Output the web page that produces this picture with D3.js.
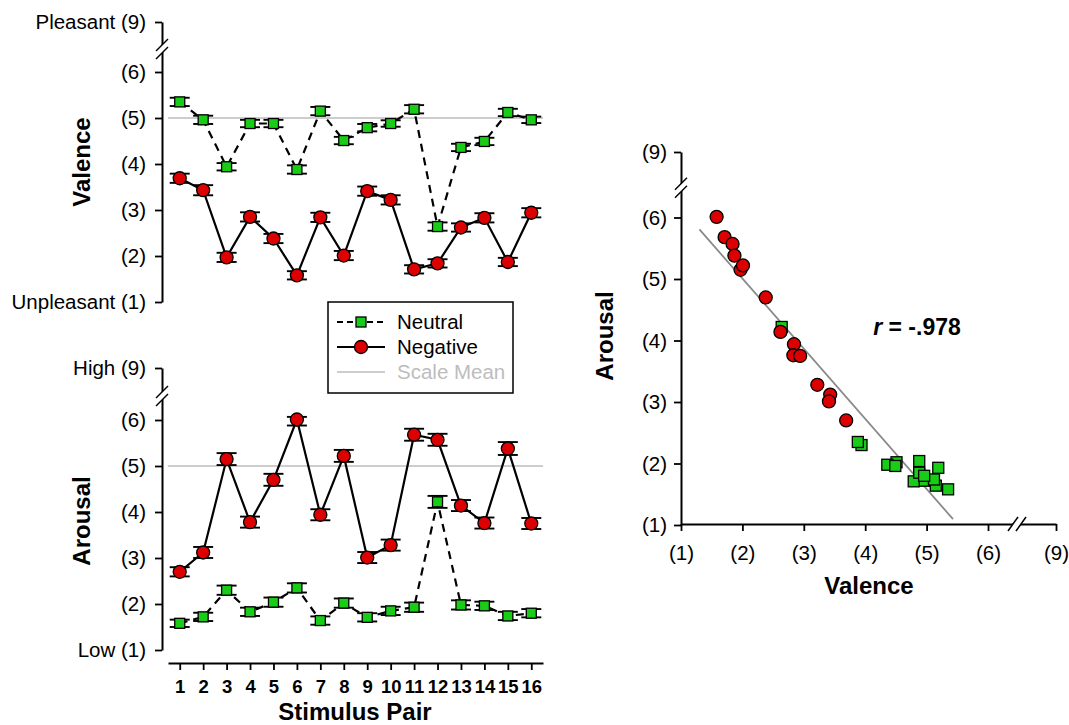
<!DOCTYPE html>
<html>
<head>
<meta charset="utf-8">
<script src="https://cdn.jsdelivr.net/npm/d3@7"></script>
<style>
  body { margin: 0; background: #fff; }
  svg { font-family: "Liberation Sans", Arial, sans-serif; }
</style>
</head>
<body>
<div id="graph"></div>
<script>
"use strict";

var width = 1069,
    height = 725;

// values
const stimulusPairs = [1, 2, 3, 4, 5, 6, 7, 8, 9, 10, 11, 12, 13, 14, 15, 16];
const valenceNeutral  = [5.35, 4.96, 3.94, 4.88, 4.88, 3.88, 5.15, 4.51, 4.79, 4.88, 5.19, 2.64, 4.36, 4.49, 5.12, 4.96];
const valenceNegative = [3.69, 3.43, 1.97, 2.85, 2.38, 1.58, 2.84, 2.01, 3.41, 3.22, 1.71, 1.84, 2.62, 2.83, 1.87, 2.94];
const arousalNeutral  = [1.58, 1.72, 2.30, 1.83, 2.04, 2.35, 1.64, 2.02, 1.71, 1.85, 1.93, 4.22, 1.98, 1.96, 1.74, 1.80];
const arousalNegative = [2.70, 3.12, 5.15, 3.78, 4.70, 6.03, 3.94, 5.22, 3.01, 3.28, 5.68, 5.57, 4.14, 3.76, 5.38, 3.75];
// standard errors
const valenceNeutralErr  = [0.09, 0.09, 0.08, 0.08, 0.08, 0.09, 0.09, 0.08, 0.08, 0.07, 0.09, 0.09, 0.08, 0.08, 0.08, 0.07];
const valenceNegativeErr = [0.10, 0.11, 0.10, 0.10, 0.10, 0.09, 0.10, 0.10, 0.10, 0.10, 0.09, 0.09, 0.09, 0.10, 0.09, 0.10];
const arousalNeutralErr  = [0.08, 0.09, 0.10, 0.09, 0.10, 0.10, 0.09, 0.10, 0.09, 0.09, 0.10, 0.13, 0.10, 0.09, 0.09, 0.09];
const arousalNegativeErr = [0.10, 0.12, 0.13, 0.12, 0.13, 0.15, 0.12, 0.13, 0.12, 0.12, 0.13, 0.13, 0.12, 0.12, 0.14, 0.12];

const scaleTicks = [1, 2, 3, 4, 5, 6, 9];
const scaleMean = 5;
const regRange = [1.30, 5.43];
const corrLabel = "= -.978";
const legendItems = ["Neutral", "Negative", "Scale Mean"];

const green = "#18cc18",
      red = "#dd0000",
      grey = "#bdbdbd";

let svg = d3.select("#graph")
    .append("svg")
    .attr("width", width)
    .attr("height", height);

// x scale for stimulus pairs (domain padded so the axis line runs past 1 and 16)
let xPair = d3.scaleLinear().domain([0.5, 16.5]).range([168, 543]);

function breakMark(g, x, y, vertical) {
    // two parallel slashes with a white gap, over an axis line
    let dx = vertical ? 6 : 5, dy = vertical ? 6 : 7, off = 4;
    let o1 = vertical ? [0, -off] : [-off, 0];
    let o2 = vertical ? [0, off] : [off, 0];
    g.append("polygon")
        .attr("points", [
            [x + o1[0] - dx, y + o1[1] + dy], [x + o1[0] + dx, y + o1[1] - dy],
            [x + o2[0] + dx, y + o2[1] - dy], [x + o2[0] - dx, y + o2[1] + dy]
        ].map(p => p.join(",")).join(" "))
        .attr("fill", "#fff");
    [o1, o2].forEach(o => {
        g.append("line")
            .attr("x1", x + o[0] - dx).attr("y1", y + o[1] + dy)
            .attr("x2", x + o[0] + dx).attr("y2", y + o[1] - dy)
            .attr("stroke", "#000").attr("stroke-width", 1.5);
    });
}

function styleAxis(g, fontSize, bold) {
    g.select(".domain").attr("stroke", "#000").attr("stroke-width", 2);
    g.selectAll(".tick line").attr("stroke", "#000").attr("stroke-width", 1.8);
    g.selectAll(".tick text")
        .attr("fill", "#000")
        .style("font-size", fontSize + "px")
        .style("font-weight", bold ? "bold" : "normal");
}

function linePanel(yRange, neutral, neutralErr, negative, negativeErr, topLabel, bottomLabel, title, titleY, drawX) {
    let y = d3.scaleLinear().domain([1, 6, 9]).range(yRange);
    let g = svg.append("g");

    let yAxis = g.append("g")
        .attr("transform", "translate(162,0)")
        .call(d3.axisLeft(y)
            .tickValues(scaleTicks)
            .tickSize(7)
            .tickPadding(9)
            .tickSizeOuter(0)
            .tickFormat(d => d == 9 ? topLabel + " (9)" : d == 1 ? bottomLabel + " (1)" : "(" + d + ")"));
    styleAxis(yAxis, 20.5, false);
    breakMark(g, 162, (y(6) + y(9)) / 2 + 2, true);

    g.append("text")
        .attr("transform", "translate(90," + titleY + ") rotate(-90)")
        .attr("text-anchor", "middle")
        .style("font-size", "24px")
        .style("font-weight", "bold")
        .text(title);

    // scale mean reference line
    g.append("line")
        .attr("x1", xPair.range()[0]).attr("x2", xPair.range()[1])
        .attr("y1", y(scaleMean)).attr("y2", y(scaleMean))
        .attr("stroke", grey).attr("stroke-width", 1.6);

    if (drawX) {
        let xAxis = g.append("g")
            .attr("transform", "translate(0," + 663 + ")")
            .call(d3.axisBottom(xPair)
                .tickValues(stimulusPairs)
                .tickSize(7)
                .tickPadding(10)
                .tickSizeOuter(0));
        styleAxis(xAxis, 18.5, true);
    }

    let line = d3.line()
        .x((d, i) => xPair(stimulusPairs[i]))
        .y(d => y(d));

    g.append("path")
        .datum(neutral)
        .attr("d", line)
        .attr("fill", "none")
        .attr("stroke", "#000")
        .attr("stroke-width", 2.2)
        .attr("stroke-dasharray", "8,6");
    g.append("path")
        .datum(negative)
        .attr("d", line)
        .attr("fill", "none")
        .attr("stroke", "#000")
        .attr("stroke-width", 2.2);

    // error bars
    [[neutral, neutralErr], [negative, negativeErr]].forEach(function (s) {
        let vals = s[0], errs = s[1];
        let eb = g.append("g").selectAll("g")
            .data(vals)
            .enter()
            .append("g");
        eb.append("line")
            .attr("x1", (d, i) => xPair(stimulusPairs[i]))
            .attr("x2", (d, i) => xPair(stimulusPairs[i]))
            .attr("y1", (d, i) => y(d + errs[i]))
            .attr("y2", (d, i) => y(d - errs[i]))
            .attr("stroke", "#000").attr("stroke-width", 1.5);
        [1, -1].forEach(function (sg) {
            eb.append("line")
                .attr("x1", (d, i) => xPair(stimulusPairs[i]) - 10)
                .attr("x2", (d, i) => xPair(stimulusPairs[i]) + 10)
                .attr("y1", (d, i) => y(d + sg * errs[i]))
                .attr("y2", (d, i) => y(d + sg * errs[i]))
                .attr("stroke", "#000").attr("stroke-width", 1.9);
        });
    });

    g.append("g").selectAll("rect")
        .data(neutral)
        .enter()
        .append("rect")
        .attr("x", (d, i) => xPair(stimulusPairs[i]) - 5)
        .attr("y", d => y(d) - 5)
        .attr("width", 10)
        .attr("height", 10)
        .attr("fill", green)
        .attr("stroke", "#000")
        .attr("stroke-width", 1.3);

    g.append("g").selectAll("circle")
        .data(negative)
        .enter()
        .append("circle")
        .attr("cx", (d, i) => xPair(stimulusPairs[i]))
        .attr("cy", d => y(d))
        .attr("r", 6.5)
        .attr("fill", red)
        .attr("stroke", "#000")
        .attr("stroke-width", 1.3);
}

linePanel([302, 72, 22], valenceNeutral, valenceNeutralErr, valenceNegative, valenceNegativeErr,
    "Pleasant", "Unpleasant", "Valence", 162, false);
linePanel([650, 420, 368], arousalNeutral, arousalNeutralErr, arousalNegative, arousalNegativeErr,
    "High", "Low", "Arousal", 521, true);

svg.append("text")
    .attr("x", 355)
    .attr("y", 720)
    .attr("text-anchor", "middle")
    .style("font-size", "24px")
    .style("font-weight", "bold")
    .text("Stimulus Pair");

// legend
let legend = svg.append("g");
legend.append("rect")
    .attr("x", 328).attr("y", 302)
    .attr("width", 185).attr("height", 91)
    .attr("fill", "#fff")
    .attr("stroke", "#000")
    .attr("stroke-width", 1.5);
legendItems.forEach(function (name, i) {
    let ly = 322 + i * 25;
    let row = legend.append("g");
    row.append("line")
        .attr("x1", 337).attr("x2", 385)
        .attr("y1", ly).attr("y2", ly)
        .attr("stroke", i == 2 ? grey : "#000")
        .attr("stroke-width", i == 2 ? 1.6 : 2)
        .attr("stroke-dasharray", i == 0 ? "6,4" : null);
    if (i == 0) {
        row.append("rect")
            .attr("x", 356).attr("y", ly - 5)
            .attr("width", 10).attr("height", 10)
            .attr("fill", green).attr("stroke", "#000").attr("stroke-width", 1.3);
    } else if (i == 1) {
        row.append("circle")
            .attr("cx", 361).attr("cy", ly).attr("r", 6.5)
            .attr("fill", red).attr("stroke", "#000").attr("stroke-width", 1.3);
    }
    row.append("text")
        .attr("x", 397).attr("y", ly + 7)
        .attr("fill", i == 2 ? grey : "#000")
        .style("font-size", "20.5px")
        .text(name);
});

// scatter: valence vs arousal
let sx = d3.scaleLinear().domain([1, 6, 9]).range([681, 988, 1056]);
let sy = d3.scaleLinear().domain([1, 6, 9]).range([525, 217.5, 152]);
let sc = svg.append("g");

let sxAxis = sc.append("g")
    .attr("transform", "translate(0,524)")
    .call(d3.axisBottom(sx)
        .tickValues(scaleTicks)
        .tickSize(7)
        .tickPadding(14)
        .tickSizeOuter(0)
        .tickFormat(d => "(" + d + ")"));
styleAxis(sxAxis, 20.5, false);
let syAxis = sc.append("g")
    .attr("transform", "translate(681,0)")
    .call(d3.axisLeft(sy)
        .tickValues(scaleTicks)
        .tickSize(7)
        .tickPadding(7)
        .tickSizeOuter(0)
        .tickFormat(d => "(" + d + ")"));
styleAxis(syAxis, 20.5, false);
breakMark(sc, 681, (sy(6) + sy(9)) / 2 + 3, true);
breakMark(sc, (sx(6) + sx(9)) / 2 - 5, 524, false);

sc.append("text")
    .attr("transform", "translate(613,336) rotate(-90)")
    .attr("text-anchor", "middle")
    .style("font-size", "24px")
    .style("font-weight", "bold")
    .text("Arousal");
sc.append("text")
    .attr("x", 869).attr("y", 594)
    .attr("text-anchor", "middle")
    .style("font-size", "24px")
    .style("font-weight", "bold")
    .text("Valence");

// least squares fit over all 32 items
let allV = valenceNeutral.concat(valenceNegative),
    allA = arousalNeutral.concat(arousalNegative);
let mv = d3.mean(allV), ma = d3.mean(allA);
let slope = d3.sum(allV, (v, i) => (v - mv) * (allA[i] - ma)) / d3.sum(allV, v => (v - mv) * (v - mv));
let icpt = ma - slope * mv;

sc.append("line")
    .attr("x1", sx(regRange[0])).attr("y1", sy(icpt + slope * regRange[0]))
    .attr("x2", sx(regRange[1])).attr("y2", sy(icpt + slope * regRange[1]))
    .attr("stroke", "#8a8a8a")
    .attr("stroke-width", 1.8);

sc.append("g").selectAll("rect")
    .data(valenceNeutral)
    .enter()
    .append("rect")
    .attr("x", (d, i) => sx(d) - 5.5)
    .attr("y", (d, i) => sy(arousalNeutral[i]) - 5.5)
    .attr("width", 11)
    .attr("height", 11)
    .attr("fill", green)
    .attr("stroke", "#000")
    .attr("stroke-width", 1.3);

sc.append("g").selectAll("circle")
    .data(valenceNegative)
    .enter()
    .append("circle")
    .attr("cx", d => sx(d))
    .attr("cy", (d, i) => sy(arousalNegative[i]))
    .attr("r", 6.5)
    .attr("fill", red)
    .attr("stroke", "#000")
    .attr("stroke-width", 1.3);

let rt = sc.append("text")
    .attr("x", 917).attr("y", 335)
    .attr("text-anchor", "middle")
    .style("font-size", "23px")
    .style("font-weight", "bold");
rt.append("tspan").style("font-style", "italic").text("r ");
rt.append("tspan").text(corrLabel);
</script>
</body>
</html>
